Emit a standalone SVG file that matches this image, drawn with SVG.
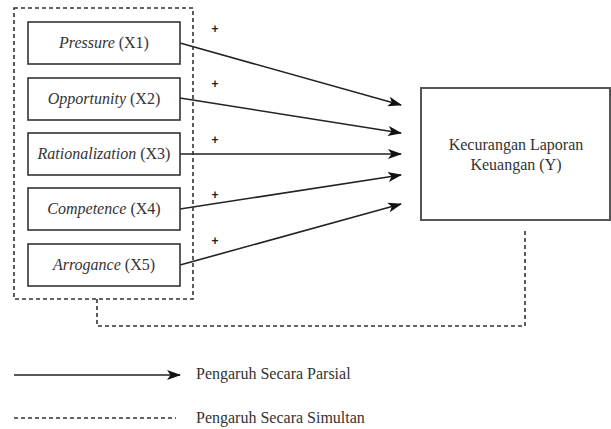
<svg xmlns="http://www.w3.org/2000/svg" width="611" height="429" viewBox="0 0 611 429">
<style>
.box{fill:#fff;stroke:#333;stroke-width:1.6}
.ybox{fill:#fff;stroke:#555;stroke-width:2}
.lbl{font-family:"Liberation Serif","Times New Roman",serif;font-size:16px;fill:#333;text-anchor:middle}
.it{font-style:italic}
.arr{stroke:#222;stroke-width:1.6;fill:none;marker-end:url(#ah)}
.dash{stroke:#333;stroke-width:1.6;fill:none;stroke-dasharray:4 3}
.plus{font-family:"Liberation Sans",sans-serif;font-size:12px;font-weight:bold;fill:#222;text-anchor:middle}
.leg{font-family:"Liberation Serif","Times New Roman",serif;font-size:16px;fill:#333}
</style>
<defs>
<marker id="ah" viewBox="0 0 14 10" refX="13" refY="5" markerWidth="14" markerHeight="10" markerUnits="userSpaceOnUse" orient="auto">
<path d="M0,0 L14,5 L0,10 L3.5,5 Z" fill="#111"/>
</marker>
</defs>
<g id="connectors">
<line class="arr" x1="180" y1="43" x2="401" y2="105"/>
<line class="arr" x1="180" y1="98" x2="401" y2="133"/>
<line class="arr" x1="180" y1="154" x2="401" y2="154"/>
<line class="arr" x1="180" y1="209" x2="401" y2="175"/>
<line class="arr" x1="180" y1="265" x2="401" y2="204"/>
<polyline class="dash" points="97,299 97,326 525,326 525,231"/>
</g>
<g id="plus-signs">
<text class="plus" x="215" y="33">+</text>
<text class="plus" x="215" y="88">+</text>
<text class="plus" x="215" y="144">+</text>
<text class="plus" x="215" y="199">+</text>
<text class="plus" x="215" y="245">+</text>
</g>
<g id="group-x">
<rect class="dash" x="14" y="8" width="179" height="291"/>
</g>
<g id="x1"><rect class="box" x="28" y="22" width="152" height="42"/><text class="lbl" x="104" y="48"><tspan class="it">Pressure</tspan> (X1)</text></g>
<g id="x2"><rect class="box" x="28" y="78" width="152" height="42"/><text class="lbl" x="104" y="104"><tspan class="it">Opportunity</tspan> (X2)</text></g>
<g id="x3"><rect class="box" x="28" y="133" width="152" height="42"/><text class="lbl" x="104" y="159"><tspan class="it">Rationalization</tspan> (X3)</text></g>
<g id="x4"><rect class="box" x="28" y="188" width="152" height="42"/><text class="lbl" x="104" y="214"><tspan class="it">Competence</tspan> (X4)</text></g>
<g id="x5"><rect class="box" x="28" y="244" width="152" height="42"/><text class="lbl" x="104" y="270"><tspan class="it">Arrogance</tspan> (X5)</text></g>
<g id="y">
<rect class="ybox" x="421" y="88" width="189" height="132"/>
<text class="lbl" x="516" y="150">Kecurangan Laporan</text>
<text class="lbl" x="516" y="170">Keuangan (Y)</text>
</g>
<g id="legend">
<line class="arr" x1="14" y1="375" x2="180" y2="375"/>
<text class="leg" x="196" y="379">Pengaruh Secara Parsial</text>
<line class="dash" x1="14" y1="418" x2="176" y2="418"/>
<text class="leg" x="196" y="423">Pengaruh Secara Simultan</text>
</g>
</svg>
